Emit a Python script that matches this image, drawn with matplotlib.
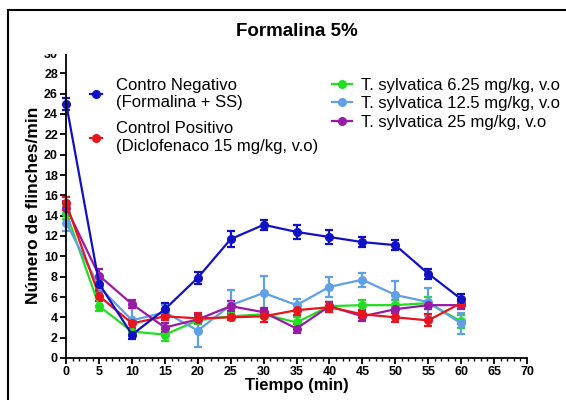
import numpy as np
import matplotlib
matplotlib.use("Agg")
from matplotlib import pyplot as plt
from matplotlib.patches import Rectangle
from matplotlib.lines import Line2D
from matplotlib.ticker import MultipleLocator

plt.rcParams['font.family'] = ['Liberation Sans', 'DejaVu Sans']

tiempo = [0, 5, 10, 15, 20, 25, 30, 35, 40, 45, 50, 55, 60]

neg = [25.0, 7.3, 2.3, 4.8, 7.9, 11.7, 13.1, 12.4, 11.9, 11.4, 11.1, 8.3, 5.8]
neg_err = [0.6, 0.5, 0.4, 0.6, 0.6, 0.8, 0.5, 0.7, 0.7, 0.5, 0.5, 0.5, 0.5]

pos = [15.2, 6.1, 3.4, 4.1, 3.9, 4.0, 4.1, 4.7, 5.0, 4.3, 4.0, 3.7, 5.4]
pos_err = [0.6, 0.5, 0.4, 0.4, 0.5, 0.3, 0.6, 0.5, 0.5, 0.4, 0.5, 0.6, 0.3]

ts625 = [14.3, 5.1, 2.6, 2.3, 3.7, 4.1, 4.3, 3.5, 5.1, 5.2, 5.2, 5.4, 3.6]
ts625_err = [0.6, 0.5, 0.3, 0.6, 0.4, 0.4, 0.4, 0.5, 0.4, 0.5, 0.5, 0.6, 0.6]

ts125 = [13.3, 7.0, 3.7, 4.5, 2.7, 5.2, 6.4, 5.2, 7.0, 7.7, 6.2, 5.5, 3.4]
ts125_err = [0.8, 0.6, 1.2, 0.7, 1.6, 1.5, 1.7, 0.6, 1.0, 0.7, 1.4, 1.4, 1.0]

ts25 = [14.8, 8.1, 5.3, 3.0, 3.8, 5.1, 4.5, 2.9, 5.1, 4.1, 4.8, 5.2, 5.2]
ts25_err = [0.6, 0.7, 0.4, 0.4, 0.4, 0.5, 0.4, 0.4, 0.4, 0.5, 0.4, 0.4, 0.4]

c_neg = '#1010c4'
c_pos = '#e8141e'
c_625 = '#22dd22'
c_125 = '#5fa0e6'
c_25 = '#9a1aa8'

fig = plt.figure(figsize=(5.66, 4.0), dpi=100)
ax = fig.add_axes([0.117, 0.105, 0.814, 0.7625])

series = [
    (ts625, ts625_err, c_625),
    (ts125, ts125_err, c_125),
    (ts25, ts25_err, c_25),
    (pos, pos_err, c_pos),
    (neg, neg_err, c_neg),
]
for vals, err, col in series:
    ax.errorbar(tiempo, vals, yerr=err, color=col, marker='o', markersize=5.5,
                linewidth=1.6, elinewidth=1.6, capsize=3, capthick=1.6, clip_on=False)

ax.set_xlim(0, 70)
ax.set_ylim(0, 30)
ax.xaxis.set_major_locator(MultipleLocator(5))
ax.xaxis.set_minor_locator(MultipleLocator(1))
ax.yaxis.set_major_locator(MultipleLocator(2))
ax.spines['top'].set_visible(False)
ax.spines['right'].set_visible(False)
ax.spines['left'].set_linewidth(1.3)
ax.spines['bottom'].set_linewidth(1.3)
ax.tick_params(axis='both', which='major', length=4, width=1.3, labelsize=9, pad=2)
ax.tick_params(axis='x', which='minor', length=2, width=1)
for lab in ax.get_xticklabels() + ax.get_yticklabels():
    lab.set_fontweight('bold')

ax.set_xlabel('Tiempo (min)', fontsize=12, fontweight='bold', labelpad=0)
ax.set_ylabel('Número de flinches/min', fontsize=12.5, fontweight='bold', labelpad=2)

def handle(col):
    return Line2D([0], [0], color=col, marker='o', markersize=5.5, linewidth=1.6)

leg1 = ax.legend([handle(c_neg), handle(c_pos)],
                 ['Contro Negativo\n(Formalina + SS)', 'Control Positivo\n(Diclofenaco 15 mg/kg, v.o)'],
                 loc='upper left', bbox_to_anchor=(0.159, 0.805),
                 bbox_transform=fig.transFigure, frameon=False, borderaxespad=0, borderpad=0,
                 fontsize=12, handlelength=0.75, handletextpad=0.8, labelspacing=0.65)
ax.add_artist(leg1)
ax.legend([handle(c_625), handle(c_125), handle(c_25)],
          ['T. sylvatica 6.25 mg/kg, v.o', 'T. sylvatica 12.5 mg/kg, v.o', 'T. sylvatica 25 mg/kg, v.o'],
          loc='upper left', bbox_to_anchor=(0.587, 0.805),
          bbox_transform=fig.transFigure, frameon=False, borderaxespad=0, borderpad=0,
          fontsize=12, handlelength=1.2, handletextpad=0.5, labelspacing=0.2)

# white band at the top, the "30" label is cut off in the original
fig.add_artist(Rectangle((0.025, 0.865), 0.975, 0.1, transform=fig.transFigure,
                         facecolor='white', edgecolor='none', zorder=10))
fig.text(0.525, 0.922, 'Formalina 5%', ha='center', va='center', fontsize=13.5,
         fontweight='bold', zorder=11)

# frame lines (image is cropped on right and bottom)
fig.add_artist(Line2D([0.014, 1.0], [0.975, 0.975], transform=fig.transFigure,
                      color='black', linewidth=1.5, zorder=12))
fig.add_artist(Line2D([0.014, 0.014], [0.0, 0.975], transform=fig.transFigure,
                      color='black', linewidth=1.5, zorder=12))

fig.savefig('out.png', dpi=100)
